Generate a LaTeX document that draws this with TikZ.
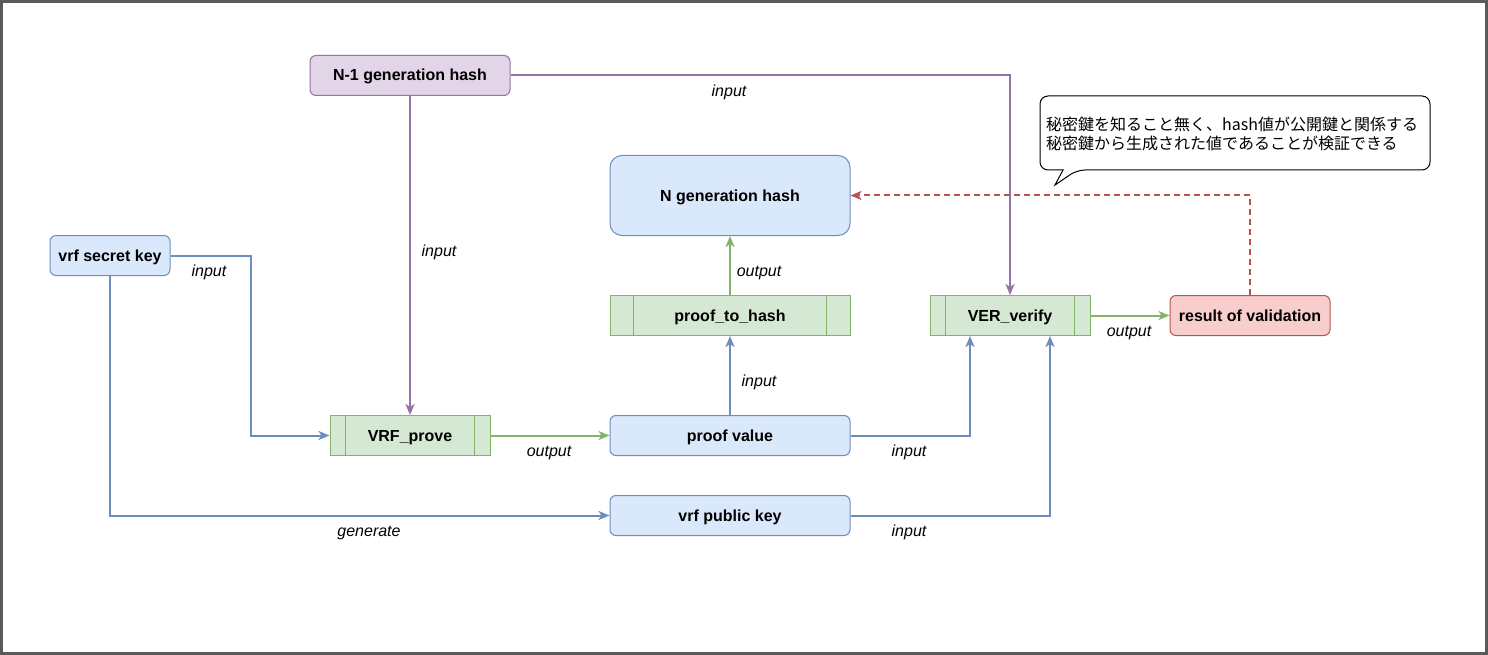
\documentclass[tikz,border=0pt]{standalone}
\usepackage{fontspec}
\setmainfont{Liberation Sans}
\newfontfamily\jpfont{Noto Sans CJK JP}
\usetikzlibrary{arrows.meta,calc}
\definecolor{frameC}{HTML}{5A5A5A}
\definecolor{blueF}{HTML}{DAE8FC}
\definecolor{blueS}{HTML}{6C8EBF}
\definecolor{greenF}{HTML}{D5E8D4}
\definecolor{greenS}{HTML}{82B366}
\definecolor{purpF}{HTML}{E1D5E7}
\definecolor{purpS}{HTML}{9673A6}
\definecolor{redF}{HTML}{F8CECC}
\definecolor{redS}{HTML}{B85450}
\begin{document}
\begin{tikzpicture}[x=1pt,y=-1pt,
  box/.style={draw, rounded corners=6pt, minimum height=40pt, inner sep=0pt, line width=1pt,
    text height=14pt, text depth=3pt,
    font=\fontsize{16}{19}\selectfont\bfseries},
  bluebox/.style={box, fill=blueF, draw=blueS},
  purpbox/.style={box, fill=purpF, draw=purpS},
  redbox/.style={box, fill=redF, draw=redS},
  procbox/.style={box, rounded corners=0pt, fill=greenF, draw=greenS},
  inner/.style={draw=greenS, line width=1pt},
  tip/.style={-{Stealth[length=11pt,width=9pt,inset=3pt]}},
  edge/.style={tip, line width=2pt},
  bedge/.style={edge, draw=blueS},
  gedge/.style={edge, draw=greenS},
  pedge/.style={edge, draw=purpS},
  redge/.style={edge, draw=redS, dash pattern=on 6pt off 4pt},
  lbl/.style={font=\fontsize{16}{19}\selectfont\itshape, inner sep=0pt, text height=14pt, text depth=3pt}
]
\useasboundingbox (0,0) rectangle (1488,655);
\draw[frameC, line width=3pt] (1.5,1.5) rectangle (1486.5,653.5);

% nodes
\node[purpbox, minimum width=200pt] (n1) at (410,75.5) {N-1 generation hash};
\node[bluebox, minimum width=240pt, minimum height=80pt, rounded corners=12pt] (ngh) at (730,195.5) {N generation hash};
\node[bluebox, minimum width=120pt] (sk) at (110,255.5) {vrf secret key};
\node[procbox, minimum width=240pt] (pth) at (730,315.5) {proof\_to\_hash};
\node[procbox, minimum width=160pt] (ver) at (1010,315.5) {VER\_verify};
\node[redbox, minimum width=160pt] (res) at (1250,315.5) {result of validation};
\node[procbox, minimum width=160pt] (vp) at (410,435.5) {VRF\_prove};
\node[bluebox, minimum width=240pt] (pv) at (730,435.5) {proof value};
\node[bluebox, minimum width=240pt] (pk) at (730,515.5) {vrf public key};

% process inner lines
\draw[inner] ($(pth.north west)+(24,0)$) -- ($(pth.south west)+(24,0)$);
\draw[inner] ($(pth.north east)+(-24,0)$) -- ($(pth.south east)+(-24,0)$);
\draw[inner] ($(ver.north west)+(16,0)$) -- ($(ver.south west)+(16,0)$);
\draw[inner] ($(ver.north east)+(-16,0)$) -- ($(ver.south east)+(-16,0)$);
\draw[inner] ($(vp.north west)+(16,0)$) -- ($(vp.south west)+(16,0)$);
\draw[inner] ($(vp.north east)+(-16,0)$) -- ($(vp.south east)+(-16,0)$);

% callout
\draw[line width=1pt, fill=white] (1063,170) [rounded corners=8pt] -- (1040,170) -- (1040,96) -- (1430,96) -- (1430,170) -- (1077,170) [sharp corners] -- (1055,185) -- cycle;
\node[anchor=west, align=left, inner sep=0pt, font=\jpfont\fontsize{16}{19}\selectfont] (note) at (1046,134)
  {秘密鍵を知ること無く、hash値が公開鍵と関係する\\秘密鍵から生成された値であることが検証できる};

% edges
\draw[pedge] (n1.east) -| (ver.north);
\draw[pedge] (n1.south) -- (vp.north);
\draw[bedge] (sk.east) -- ++(80,0) |- (vp.west);
\draw[bedge] (sk.south) |- (pk.west);
\draw[gedge] (vp.east) -- (pv.west);
\draw[bedge] (pv.north) -- (pth.south);
\draw[gedge] (pth.north) -- (ngh.south);
\coordinate (verL) at ($(ver.south)+(-40,0)$);
\coordinate (verR) at ($(ver.south)+(40,0)$);
\draw[bedge] (pv.east) -| (verL);
\draw[bedge] (pk.east) -| (verR);
\draw[gedge] (ver.east) -- (res.west);
\draw[redge] (res.north) |- (ngh.east);

% labels
\node[lbl] (l1) at (729,91) {input};
\node[lbl] (l2) at (439,251) {input};
\node[lbl] (l3) at (209,271) {input};
\node[lbl] (l4) at (369,531) {generate};
\node[lbl] (l5) at (549,451) {output};
\node[lbl] (l6) at (759,381) {input};
\node[lbl] (l7) at (759,271) {output};
\node[lbl] (l8) at (909,451) {input};
\node[lbl] (l9) at (909,531) {input};
\node[lbl] (l10) at (1129,331) {output};
\end{tikzpicture}
\end{document}
